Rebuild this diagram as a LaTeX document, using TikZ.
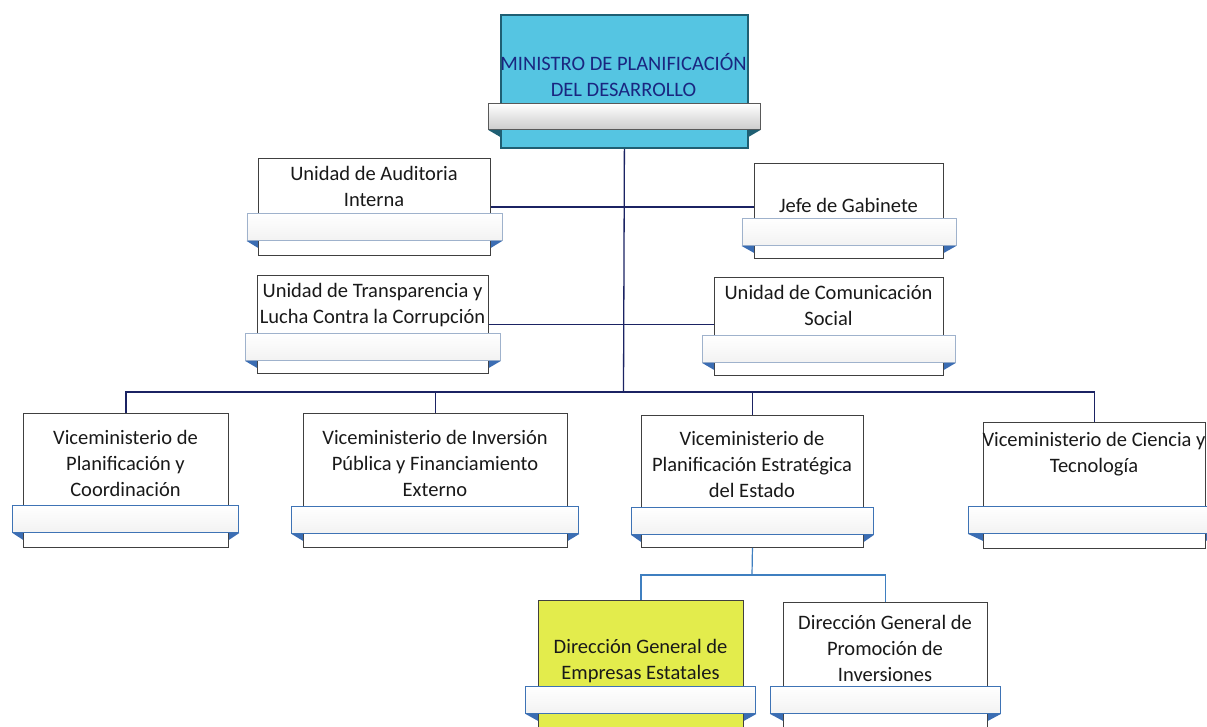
\documentclass[tikz,border=0pt]{standalone}
\usepackage{fontspec}
\setmainfont{Carlito}
\usetikzlibrary{positioning,calc}

\definecolor{minfill}{HTML}{55C5E2}
\definecolor{minline}{HTML}{1F5F73}
\definecolor{mintext}{HTML}{1A2680}
\definecolor{navy}{HTML}{1B2363}
\definecolor{ltblue}{HTML}{3F7FC0}
\definecolor{ribline}{HTML}{9FB2CC}
\definecolor{vribline}{HTML}{3E73B5}
\definecolor{foldblue}{HTML}{3B6DB3}
\definecolor{yelfill}{HTML}{E3EC4C}

\begin{document}
\begin{tikzpicture}[x=1pt, y=-1pt,
  ubox/.style={draw=black!75, fill=white, rectangle, line width=0.9pt,
    inner sep=0pt, anchor=north west},
  ribbon/.style={draw=ribline, line width=0.8pt, top color=white,
    bottom color=gray!10, rectangle, minimum height=27pt, inner sep=0pt},
  vribbon/.style={ribbon, draw=vribline, line width=1pt},
  utext/.style={align=center, inner sep=0pt, text=black!90,
    font=\fontsize{20.5}{26}\selectfont},
  fold/.style={fill=foldblue},
  conn/.style={draw=navy, line width=1.3pt},
  conn2/.style={draw=ltblue, line width=1.2pt},
]
\clip (0,0) rectangle (1207,727);
\fill[white] (0,0) rectangle (1207,727);

%==================== MINISTRO ====================
\node[ubox, fill=minfill, draw=minline, line width=1.8pt,
  minimum width=247pt, minimum height=133pt] (min) at (500,14) {};
\node[ribbon, top color=white, bottom color=gray!40, draw=black!65,
  minimum width=272pt, minimum height=26pt, above=19pt of min.south] (minR) {};
\fill[fold, fill=minline] (minR.south west) -- (minR.south west -| min.west) -- ++(0,7) -- cycle
  (minR.south east) -- (minR.south east -| min.east) -- ++(0,7) -- cycle;
\node[utext, text=mintext] (minT) at (623.5,75) {MINISTRO DE PLANIFICACIÓN\\DEL DESARROLLO};

%==================== UNIDADES DE APOYO ====================
\node[ubox, minimum width=232pt, minimum height=97pt] (aud) at (258,158) {};
\node[ribbon, minimum width=255pt, above=15pt of aud.south] (audR) {};
\fill[fold] (audR.south west) -- (audR.south west -| aud.west) -- ++(0,7) -- cycle
  (audR.south east) -- (audR.south east -| aud.east) -- ++(0,7) -- cycle;
\node[utext] (audT) at (374,186) {Unidad de Auditoria\\Interna};

\node[ubox, minimum width=189pt, minimum height=95pt] (jefe) at (754,163) {};
\node[ribbon, minimum width=214pt, above=13pt of jefe.south] (jefeR) {};
\fill[fold] (jefeR.south west) -- (jefeR.south west -| jefe.west) -- ++(0,7) -- cycle
  (jefeR.south east) -- (jefeR.south east -| jefe.east) -- ++(0,7) -- cycle;
\node[utext] (jefeT) at (848.5,205) {Jefe de Gabinete};

\node[ubox, minimum width=231pt, minimum height=98pt] (tra) at (257,275) {};
\node[ribbon, minimum width=255pt, above=13pt of tra.south] (traR) {};
\fill[fold] (traR.south west) -- (traR.south west -| tra.west) -- ++(0,7) -- cycle
  (traR.south east) -- (traR.south east -| tra.east) -- ++(0,7) -- cycle;
\node[utext] (traT) at (372.5,305) {Unidad de Transparencia y\\Lucha Contra la Corrupción};

\node[ubox, minimum width=229pt, minimum height=98pt] (com) at (714,277) {};
\node[ribbon, minimum width=253pt, above=13pt of com.south] (comR) {};
\fill[fold] (comR.south west) -- (comR.south west -| com.west) -- ++(0,7) -- cycle
  (comR.south east) -- (comR.south east -| com.east) -- ++(0,7) -- cycle;
\node[utext] (comT) at (828.5,305) {Unidad de Comunicación\\Social};

%==================== VICEMINISTERIOS ====================
\node[ubox, minimum width=205pt, minimum height=134pt] (vpc) at (23,413) {};
\node[vribbon, minimum width=226pt, above=15pt of vpc.south] (vpcR) {};
\fill[fold] (vpcR.south west) -- (vpcR.south west -| vpc.west) -- ++(0,7) -- cycle
  (vpcR.south east) -- (vpcR.south east -| vpc.east) -- ++(0,7) -- cycle;
\node[utext] (vpcT) at (125.5,463) {Viceministerio de\\Planificación y\\Coordinación};

\node[ubox, minimum width=264pt, minimum height=134pt] (vip) at (303,413) {};
\node[vribbon, minimum width=287pt, above=14pt of vip.south] (vipR) {};
\fill[fold] (vipR.south west) -- (vipR.south west -| vip.west) -- ++(0,7) -- cycle
  (vipR.south east) -- (vipR.south east -| vip.east) -- ++(0,7) -- cycle;
\node[utext] (vipT) at (435,463) {Viceministerio de Inversión\\Pública y Financiamiento\\Externo};

\node[ubox, minimum width=222pt, minimum height=132pt] (vpe) at (641,415) {};
\node[vribbon, minimum width=242pt, above=13pt of vpe.south] (vpeR) {};
\fill[fold] (vpeR.south west) -- (vpeR.south west -| vpe.west) -- ++(0,7) -- cycle
  (vpeR.south east) -- (vpeR.south east -| vpe.east) -- ++(0,7) -- cycle;
\node[utext] (vpeT) at (752,464) {Viceministerio de\\Planificación Estratégica\\del Estado};

\node[ubox, minimum width=222pt, minimum height=126pt] (vct) at (983,422) {};
\node[vribbon, minimum width=252pt, above=15pt of vct.south] (vctR) {};
\fill[fold] (vctR.south west) -- (vctR.south west -| vct.west) -- ++(0,7) -- cycle
  (vctR.south east) -- (vctR.south east -| vct.east) -- ++(0,7) -- cycle;
\node[utext] (vctT) at (1094,454) {Viceministerio de Ciencia y\\Tecnología};

%==================== DIRECCIONES GENERALES ====================
\node[ubox, fill=yelfill, minimum width=205pt, minimum height=140pt] (dge) at (538,600) {};
\node[vribbon, minimum width=230pt, above=27pt of dge.south] (dgeR) {};
\fill[fold] (dgeR.south west) -- (dgeR.south west -| dge.west) -- ++(0,7) -- cycle
  (dgeR.south east) -- (dgeR.south east -| dge.east) -- ++(0,7) -- cycle;
\node[utext] (dgeT) at (640.5,661) {Dirección General de\\Empresas Estatales};

\node[ubox, minimum width=204pt, minimum height=138pt] (dpi) at (783,602) {};
\node[vribbon, minimum width=230pt, above=27pt of dpi.south] (dpiR) {};
\fill[fold] (dpiR.south west) -- (dpiR.south west -| dpi.west) -- ++(0,7) -- cycle
  (dpiR.south east) -- (dpiR.south east -| dpi.east) -- ++(0,7) -- cycle;
\node[utext] (dpiT) at (885,648) {Dirección General de\\Promoción de\\Inversiones};

%==================== LINEAS ====================
\coordinate (bus) at (623.5,392);
\coordinate (sub) at (752,575);
\draw[conn] (min.south) -- (bus);
\draw[conn] (aud.east) -- (aud.east -| jefe.west);
\draw[conn] (tra.east) -- (tra.east -| com.west);
\draw[conn] (vpc.north) |- (bus) -| (vct.north);
\draw[conn] (vip.north) -- (vip.north |- bus);
\draw[conn] (vpe.north) -- (vpe.north |- bus);
\draw[conn2] (vpe.south) -- (sub);
\draw[conn2] (dge.north) |- (sub) -| (dpi.north);

\end{tikzpicture}
\end{document}
